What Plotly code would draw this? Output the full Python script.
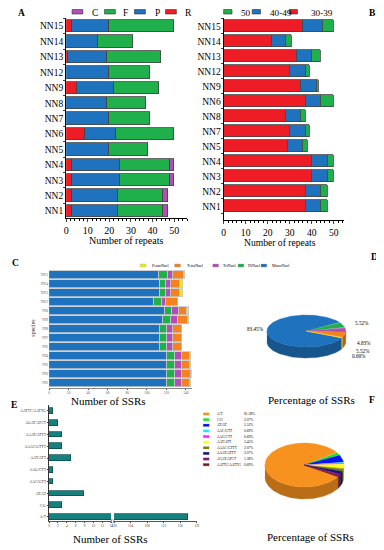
import numpy as np
import plotly.graph_objects as go

W, H = 384, 550
OX, OY = 8, 8  # page body margin offset
SERIF = "Liberation Serif"

# ---------------- data ----------------
# Panel A: SSR types per sample
a_samples = ["NN1", "NN2", "NN3", "NN4", "NN5", "NN6", "NN7", "NN8", "NN9", "NN12", "NN13", "NN14", "NN15"]
a_R = [3, 3, 3, 3, 0, 9, 0, 0, 5, 0, 1, 0, 3]
a_P = [21, 21, 22, 22, 20, 14, 20, 19, 17, 20, 18, 15, 17]
a_F = [21, 21, 23, 23, 18, 27, 19, 18, 21, 19, 25, 16, 30]
a_C = [2, 2, 2, 2, 0, 0, 0, 0, 0, 0, 0, 0, 0]
a_names = ["C", "F", "P", "R"]

# Panel B: repeat length classes
b_samples = ["NN1", "NN2", "NN3", "NN4", "NN5", "NN7", "NN8", "NN6", "NN9", "NN12", "NN13", "NN14", "NN15"]
b_30_39 = [37, 37, 40, 40, 29, 30, 28, 37, 35, 30, 33, 22, 36]
b_40_49 = [7, 7, 7, 7, 7, 7, 7, 7, 7, 7, 7, 6, 9]
b_50 = [3, 3, 3, 3, 2, 2, 2, 6, 1, 2, 4, 3, 5]
b_names = ["50", "40-49", "30-39"]

# Panel C: SSR motif classes per sample
c_samples = ["NN1", "NN2", "NN3", "NN4", "NN5", "NN7", "NN8", "NN9", "NN6", "NN12", "NN13", "NN14", "NN15"]
c_mono = [121, 121, 121, 121, 114, 114, 114, 117, 119, 107, 114, 114, 113]
c_di = [8, 8, 8, 8, 7, 7, 7, 8, 7, 9, 6, 6, 9]
c_tri = [7, 7, 7, 7, 6, 6, 6, 7, 7, 4, 5, 5, 5]
c_tetra = [8, 9, 8, 8, 9, 9, 9, 10, 8, 12, 9, 9, 11]
c_penta = [1, 1, 1, 1, 0, 0, 0, 1, 2, 0, 3, 3, 1]
c_names = ["MonoNucl", "DiNucl", "TriNucl", "TetraNucl", "PentaNucl"]

# Panel D: motif classes (percentage pie)
d_counts = [121, 8, 7, 8, 1]

# Panel E / F: repeat motifs
e_motifs = ["A/T", "C/G", "AT/AT", "AAC/GTT", "AAG/CTT", "AAT/ATT",
            "AAAC/GTTT", "AAAT/ATTT", "AGAT/ATCT", "AATTC/AATTG"]
e_counts = [118, 3, 8, 1, 1, 5, 3, 3, 2, 1]

# ---------------- styles ----------------
RED, BLUE, GREEN, PURPLE = "#EE1C25", "#1F72BD", "#1FB04B", "#B24DBA"
ORANGE, YELLOW = "#F5821F", "#F0EC1E"
c_colors = [BLUE, GREEN, PURPLE, ORANGE, YELLOW]
f_colors = ["#F7921E", "#22E02A", "#0A14F0", "#16F0F0", "#FF1EFF", "#FFFF1E",
            "#808018", "#12127A", "#801880", "#801414"]
TEAL = "#15807D"


def nz(v):
    return [x if x else None for x in v]


def fx(x):
    return (x - OX) / W


def fy(y):
    return 1 - (y - OY) / H


fig = go.Figure()

# Panel A
for vals, col in [(a_R, RED), (a_P, BLUE), (a_F, GREEN), (a_C, PURPLE)]:
    fig.add_trace(go.Bar(y=a_samples, x=nz(vals), orientation="h", width=0.8,
                         marker=dict(color=col, line=dict(color="#444", width=0.8)),
                         xaxis="x", yaxis="y", showlegend=False, hoverinfo="skip"))
# Panel B
for vals, col in [(b_30_39, RED), (b_40_49, BLUE), (b_50, GREEN)]:
    fig.add_trace(go.Bar(y=b_samples, x=nz(vals), orientation="h", width=0.82,
                         marker=dict(color=col, line=dict(color="#444", width=0.8)),
                         xaxis="x2", yaxis="y2", showlegend=False, hoverinfo="skip"))
# Panel C
for vals, col in zip([c_mono, c_di, c_tri, c_tetra, c_penta], c_colors):
    fig.add_trace(go.Bar(y=c_samples, x=nz(vals), orientation="h", width=0.92,
                         marker=dict(color=col, line=dict(color="#C4C4C4", width=0.8)),
                         xaxis="x3", yaxis="y3", showlegend=False, hoverinfo="skip"))
# Panel E (broken axis)
for xa in ["x4", "x5"]:
    fig.add_trace(go.Bar(y=e_motifs, x=e_counts, orientation="h", width=0.48,
                         marker=dict(color=TEAL, line=dict(color="#0B4A48", width=0.7)),
                         xaxis=xa, yaxis="y4", showlegend=False, hoverinfo="skip"))


# 3D pies (computed from data, drawn in pixel-space overlay axes)
def darker(hexcol, f=0.75):
    h = hexcol.lstrip("#")
    r, g, b = (int(h[i:i + 2], 16) for i in (0, 2, 4))
    return "#%02x%02x%02x" % (int(r * f), int(g * f), int(b * f))


def pie3d(values, colors, cx, cy, rx, ry, depth, start_deg):
    total = float(sum(values))
    sides, tops = [], []
    a = np.deg2rad(start_deg)
    for v, col in zip(values, colors):
        sweep = v / total * 2 * np.pi
        lo, hi = a - sweep, a
        n = max(int(sweep * 60), 6)
        t = np.linspace(hi, lo, n)
        xs = np.concatenate([[cx], cx + rx * np.cos(t), [cx]])
        ys = np.concatenate([[cy], cy - ry * np.sin(t), [cy]])
        tops.append((xs, ys, col))
        for k in range(-3, 3):
            s = max(lo, np.pi + 2 * np.pi * k)
            e = min(hi, 2 * np.pi + 2 * np.pi * k)
            if e > s:
                tt = np.linspace(s, e, max(int((e - s) * 60), 4))
                sx = np.concatenate([cx + rx * np.cos(tt), (cx + rx * np.cos(tt))[::-1]])
                sy = np.concatenate([cy - ry * np.sin(tt), (cy - ry * np.sin(tt) + depth)[::-1]])
                sides.append((sx, sy, darker(col)))
        a = lo
    for xs, ys, col in sides + tops:
        fig.add_trace(go.Scatter(x=xs, y=ys, mode="lines", fill="toself", fillcolor=col,
                                 line=dict(color=col, width=0.4), xaxis="x6", yaxis="y6",
                                 showlegend=False, hoverinfo="skip"))


pie3d(d_counts, c_colors, 308, 331, 40, 16, 11, -26.6)
pie3d(e_counts, f_colors, 306, 465, 40, 22, 12, -32)

shapes, ann = [], []


def text(x, y, s, size, xanchor="center", bold=False, color="black", angle=0, fam=SERIF):
    ann.append(dict(x=fx(x), y=fy(y), xref="paper", yref="paper", text=("<b>%s</b>" % s) if bold else s,
                    showarrow=False, xanchor=xanchor, yanchor="middle", textangle=angle,
                    font=dict(family=fam, size=size, color=color)))


def box(x0, y0, x1, y1, col, line="#333", lw=0.6):
    shapes.append(dict(type="rect", xref="paper", yref="paper", x0=fx(x0), x1=fx(x1),
                       y0=fy(y1), y1=fy(y0), fillcolor=col, line=dict(color=line, width=lw)))


# Legend A
for (bx, tx), nm, col in zip([(70, 88), (103, 120), (133.5, 152), (165, 183)], a_names,
                             [PURPLE, GREEN, BLUE, RED]):
    box(bx, 9.5, bx + 11, 14, col)
    text(tx, 13, nm, 9.5, "left")
# Legend B
for (bx, tx), nm, col in zip([(224, 239.5), (253, 269.5), (290.5, 311)], b_names, [GREEN, BLUE, RED]):
    box(bx, 9.5, bx + 8.5, 14, col)
    text(tx, 13, nm, 9.2, "left")
# Legend C
for (bx, tx), nm, col in zip([(139.3, 149.5), (174.3, 184.5), (213, 221), (238.7, 247), (262, 271)],
                             c_names[::-1], c_colors[::-1]):
    box(bx, 264, bx + 5.8, 267, col, line="#888", lw=0.3)
    text(tx, 265.6, nm, 4, "left")

# F legend
for i, (m, v, col) in enumerate(zip(e_motifs, e_counts, f_colors)):
    yy = 414 + i * 5.63
    box(203.3, yy - 1.2, 209.3, yy + 1.2, col, line=col, lw=0.2)
    text(215, yy, m, 3.5, "left")
    text(243, yy, "%.2f%%" % (v / sum(e_counts) * 100), 3.6, "left")

# D pie labels
d_pct = ["%.2f%%" % (v / sum(d_counts) * 100) for v in d_counts]
text(267.5, 329, d_pct[0], 5.2, "right")
text(355, 323, d_pct[1], 5.2, "left")
text(357.5, 343, d_pct[2], 5.2, "left")
text(356.5, 351, d_pct[3], 5.2, "left")
text(352, 356, d_pct[4], 5.2, "left")

# Axis titles
text(125, 240.5, "Number of repeats", 10)
text(281, 242, "Number of repeats", 9.6)
text(107, 401, "Number of SSRs", 11)
text(109, 539, "Number of SSRs", 11)
text(313.5, 400, "Percentage of SSRs", 11)
text(312, 537, "Percentage of SSRs", 11)
text(30, 328, "species", 6, angle=-90, color="#333")

# Panel letters
for x, y, s in [(19, 13, "A"), (375, 13, "B"), (13, 263, "C"), (377, 257, "D"), (11, 405, "E"), (375, 400, "F")]:
    text(x, y, s, 9.5, bold=True)

# Break marks on E axis
for x0 in (109.2, 111.6):
    shapes.append(dict(type="line", xref="paper", yref="paper", x0=fx(x0), x1=fx(x0 + 1.6),
                       y0=fy(523), y1=fy(519), line=dict(color="#333", width=0.6)))

axis_common = dict(showgrid=False, zeroline=False, showline=True, linecolor="black", linewidth=1,
                   ticks="outside", fixedrange=True)

fig.update_layout(
    width=W, height=H, margin=dict(l=0, r=0, t=0, b=0),
    paper_bgcolor="white", plot_bgcolor="rgba(0,0,0,0)",
    barmode="stack", bargap=0, showlegend=False,
    font=dict(family=SERIF, color="black"),
    shapes=shapes, annotations=ann,
    # A
    xaxis=dict(domain=[fx(64), fx(187)], range=[0, 56], anchor="y", tick0=0, dtick=10, ticklen=3,
               tickfont=dict(size=10), minor=dict(ticks="outside", dtick=2, ticklen=1.5, tickcolor="black"),
               **axis_common),
    yaxis=dict(domain=[fy(218), fy(18)], range=[-0.455, 12.53], anchor="x", type="category",
               categoryorder="array", categoryarray=a_samples, ticklen=2, tickson="boundaries",
               tickfont=dict(size=9.5), **axis_common),
    # B
    xaxis2=dict(domain=[fx(224), fx(346)], range=[0, 54.5], anchor="y2", tick0=0, dtick=10, ticklen=3,
                tickfont=dict(size=9.6), minor=dict(ticks="outside", dtick=2, ticklen=1.5, tickcolor="black"),
                **axis_common),
    yaxis2=dict(domain=[fy(220), fy(18)], range=[-0.913, 12.55], anchor="x2", type="category",
                categoryorder="array", categoryarray=b_samples, ticklen=2, tickson="boundaries",
                tickfont=dict(size=9.5), **axis_common),
    # C
    xaxis3=dict(domain=[fx(46.7), fx(191.7)], range=[0, 146], anchor="y3", tick0=0, dtick=20, ticklen=1.5,
                tickfont=dict(size=3.6, color="#555"), **{**axis_common, "linecolor": "#888", "linewidth": 0.6}),
    yaxis3=dict(domain=[fy(387.7), fy(270)], range=[-0.52, 12.55], anchor="x3", type="category",
                categoryorder="array", categoryarray=c_samples, ticks="", showline=False,
                showgrid=False, zeroline=False, fixedrange=True, tickfont=dict(size=3, color="#555")),
    # E left
    xaxis4=dict(domain=[fx(46.7), fx(109.7)], range=[0, 14], anchor="y4", tick0=0, dtick=2, ticklen=1.5,
                tickfont=dict(size=3.4, color="#444"), **{**axis_common, "linecolor": "#555", "linewidth": 0.6}),
    # E right
    xaxis5=dict(domain=[fx(112.7), fx(196.7)], range=[100, 120], anchor="y4", tick0=100, dtick=4,
                ticklen=1.5, tickfont=dict(size=3.4, color="#444"),
                **{**axis_common, "linecolor": "#555", "linewidth": 0.6}),
    yaxis4=dict(domain=[fy(521), fy(405)], range=[-0.34, 9.5], anchor="x4", type="category",
                categoryorder="array", categoryarray=e_motifs, ticklen=1.5,
                tickfont=dict(size=3.8, color="#333"), **{**axis_common, "linecolor": "#333", "linewidth": 0.7}),
    # pixel overlay for pies
    xaxis6=dict(domain=[0, 1], range=[OX, W + OX], anchor="y6", visible=False, fixedrange=True),
    yaxis6=dict(domain=[0, 1], range=[H + OY, OY], anchor="x6", visible=False, fixedrange=True),
)

fig.write_html("out.html")
